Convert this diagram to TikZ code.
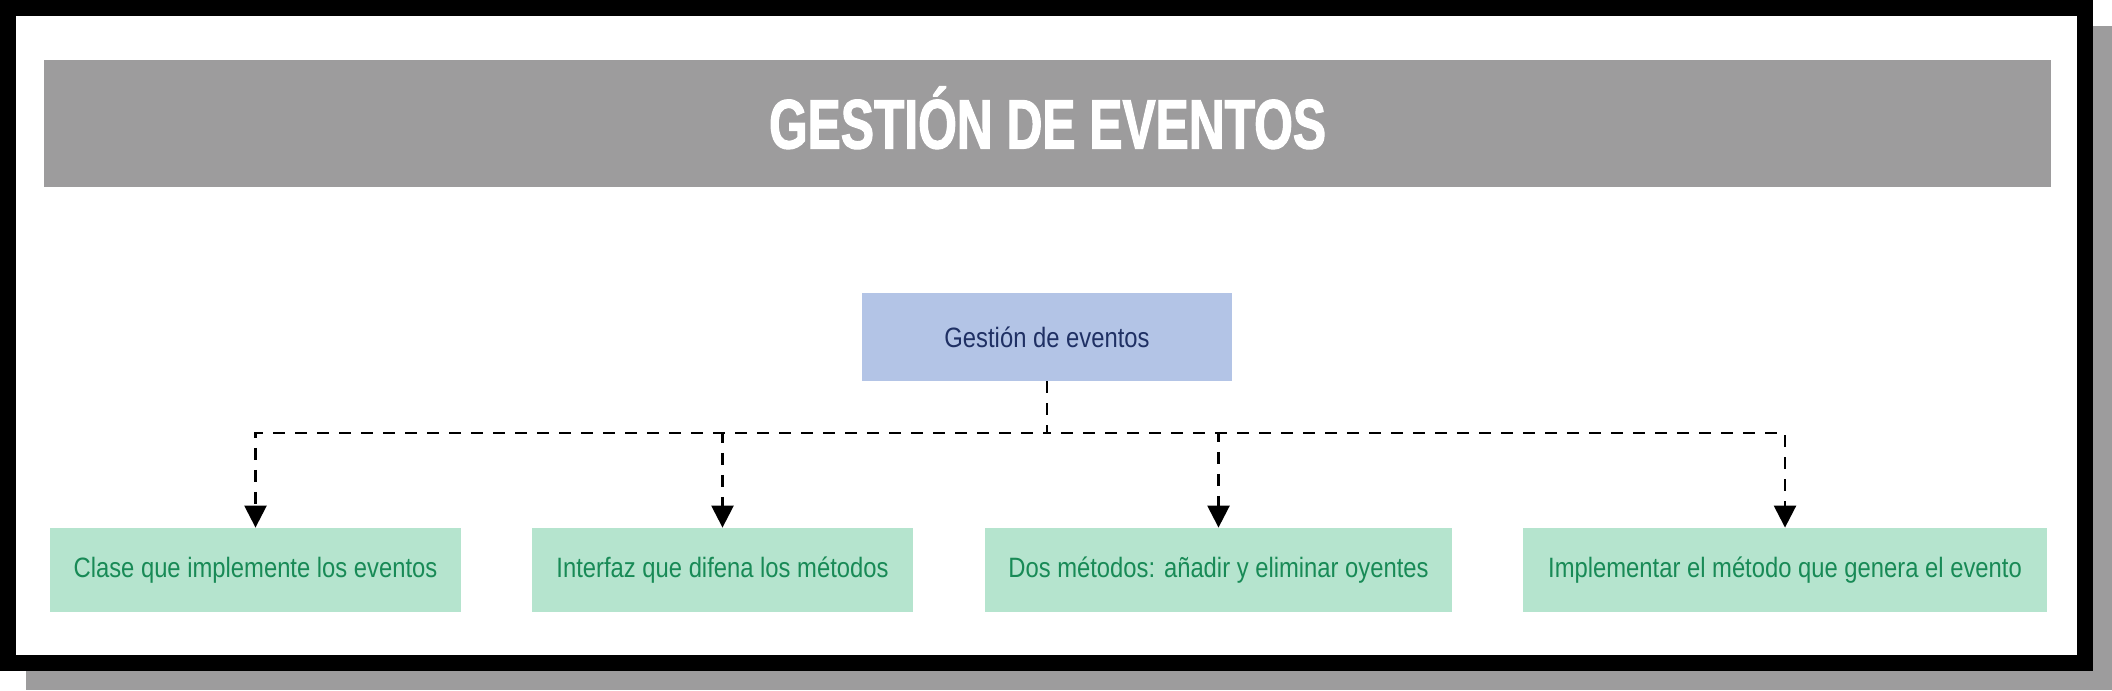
\documentclass[tikz,border=0pt]{standalone}
\usepackage{fontspec}
\newfontfamily\boxfont[FakeStretch=0.85]{Liberation Sans}
\newfontfamily\headfont[FakeStretch=0.71,FakeBold=1.6]{Liberation Sans}
\usetikzlibrary{arrows.meta}
\definecolor{bandgray}{RGB}{157,156,157}
\definecolor{rootblue}{RGB}{179,196,230}
\definecolor{rootnavy}{RGB}{31,48,100}
\definecolor{leafgreen}{RGB}{181,228,206}
\definecolor{leaftext}{RGB}{24,138,86}

\begin{document}
\begin{tikzpicture}[x=0.5pt,y=0.5pt,
  root node/.style={rectangle,fill=rootblue,text=rootnavy,inner sep=0pt,minimum width=185pt,minimum height=44pt,font=\boxfont\fontsize{14}{16}\selectfont},
  leaf node/.style={rectangle,fill=leafgreen,text=leaftext,inner sep=0pt,minimum height=42pt,font=\boxfont\fontsize{14}{16}\selectfont},
  link/.style={dash pattern=on 6pt off 5pt,line width=1.25pt,-{Triangle[length=11pt,width=11pt]}}]
\useasboundingbox (0,0) rectangle (2112,690);
% frame with shadow
\fill[bandgray] (26,0) rectangle (2112,664);
\draw[line width=8pt,fill=white] (8,27) rectangle (2085,682);
\begin{scope}
\node[rectangle,fill=bandgray,text=white,inner sep=0pt,minimum width=1003.5pt,minimum height=63.5pt,text height=25pt,text depth=0pt,font=\headfont\bfseries\fontsize{35}{40}\selectfont] (head) at (1047.5,566.5) {GESTIÓN DE EVENTOS};
\node[root node] (root) at (1047,353) {Gestión de eventos};
\node[leaf node,minimum width=205.5pt] (c1) at (255.5,120) {Clase que implemente los eventos};
\node[leaf node,minimum width=190.5pt] (c2) at (722.5,120) {Interfaz que difena los métodos};
\node[leaf node,minimum width=233.5pt] (c3) at (1218.5,120) {Dos métodos: añadir y eliminar oyentes};
\node[leaf node,minimum width=262pt] (c4) at (1785,120) {Implementar el método que genera el evento};
\coordinate (bus) at (1047,257);
\end{scope}
\begin{scope}
\draw[link] (root.south) -- (bus) -| (c1.north);
\draw[link] (root.south) -- (bus) -| (c2.north);
\draw[link] (root.south) -- (bus) -| (c3.north);
\draw[link] (root.south) -- (bus) -| (c4.north);
\end{scope}
\end{tikzpicture}
\end{document}
